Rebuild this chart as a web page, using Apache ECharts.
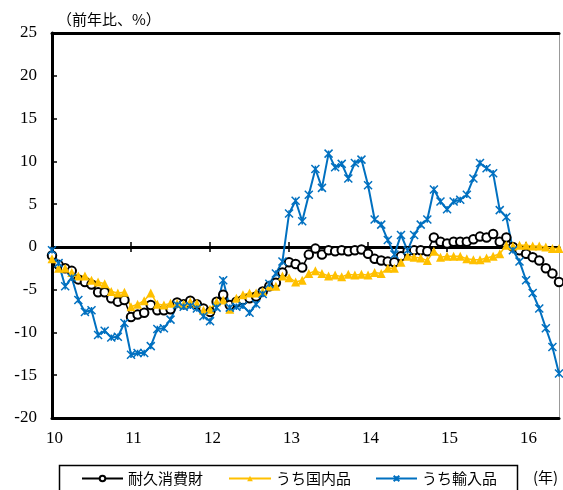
<!DOCTYPE html>
<html><head><meta charset="utf-8">
<script src="https://cdn.jsdelivr.net/npm/echarts@6/dist/echarts.min.js"></script>
<style>html,body{margin:0;padding:0;background:#fff}#c{width:563px;height:490px}</style>
</head><body><div id="c"></div>
<script>
const yearLabels = ['10','11','12','13','14','15','16'];
const categories = [];
yearLabels.forEach(y => { for (let m = 1; m <= 12; m++) categories.push(y + '-' + m); });
categories.length = 78; // Jan 2010 - Jun 2016

const seriesNames = ['耐久消費財', 'うち国内品', 'うち輸入品'];

const durable = [-1.0,-2.1,-2.5,-2.8,-3.8,-4.1,-4.4,-5.3,-5.3,-6.0,
  -6.4,-6.2,-8.2,-7.9,-7.7,-6.8,-7.4,-7.4,-7.3,-6.5,
  -6.7,-6.3,-6.7,-7.2,-7.6,-6.4,-5.6,-6.8,-6.4,-6.2,
  -6.0,-5.8,-5.2,-4.6,-4.2,-3.0,-1.8,-2.0,-2.4,-0.9,
  -0.2,-0.9,-0.4,-0.5,-0.4,-0.5,-0.4,-0.3,-0.8,-1.4,
  -1.6,-1.7,-1.8,-1.1,-0.5,-0.4,-0.4,-0.5,1.1,0.6,
  0.4,0.6,0.6,0.6,0.9,1.2,1.1,1.5,0.6,1.1,
  0.0,-0.4,-0.8,-1.2,-1.6,-2.5,-3.1,-4.1];

const domestic = [-1.4,-2.5,-2.5,-3.0,-3.4,-3.4,-3.9,-4.1,-4.3,-5.2,
  -5.4,-5.3,-7.0,-6.7,-6.3,-5.4,-6.7,-6.8,-6.6,-6.6,
  -6.7,-6.4,-6.6,-7.4,-7.3,-6.4,-6.2,-7.3,-6.0,-5.6,
  -5.4,-5.4,-5.2,-4.6,-4.6,-3.4,-3.6,-4.1,-3.9,-3.1,
  -2.8,-3.1,-3.4,-3.3,-3.5,-3.2,-3.3,-3.2,-3.3,-3.0,
  -3.1,-2.5,-2.5,-1.8,-1.1,-1.2,-1.3,-1.6,-0.5,-1.2,
  -1.1,-1.1,-1.1,-1.4,-1.5,-1.5,-1.3,-1.1,-0.8,0.2,
  0.1,0.2,0.2,0.1,0.1,0.0,-0.2,-0.2];

const imported = [-0.4,-1.9,-4.6,-3.6,-6.2,-7.6,-7.4,-10.3,-9.8,-10.6,
  -10.5,-8.9,-12.6,-12.4,-12.4,-11.6,-9.6,-9.5,-8.5,-6.8,
  -7.0,-6.9,-7.2,-8.1,-8.7,-7.1,-3.9,-7.1,-7.0,-6.9,
  -7.7,-6.7,-5.5,-4.3,-3.1,-1.7,3.9,5.4,3.0,6.1,
  9.1,6.9,10.9,9.3,9.7,8.0,9.8,10.2,7.2,3.2,
  2.6,0.8,-0.9,1.4,-0.4,1.4,2.6,3.2,6.7,5.3,
  4.4,5.3,5.5,6.1,8.0,9.8,9.2,8.6,4.3,3.5,
  -0.4,-1.7,-3.9,-5.4,-7.2,-9.5,-11.7,-14.8];

const yMin = -20, yMax = 25, yStep = 5;

const numFont = 'Liberation Serif';
const jpFont = 'Noto Sans CJK JP';
const yearTick = (i) => i % 12 === 0;

const chart = echarts.init(document.getElementById('c'), null, {renderer: 'canvas'});
const zeroAxis = (inside) => ({
  type: 'category', data: categories, boundaryGap: false, position: 'bottom',
  axisLine: {show: true, onZero: true, onZeroAxisIndex: 0, lineStyle: {color: '#000', width: 3}},
  axisTick: {show: true, inside: inside, length: 5, interval: yearTick, lineStyle: {color: '#000', width: 1.5}},
  axisLabel: {show: false}, splitLine: {show: false}
});
const legendBase = {itemHeight: 7, itemGap: 0, padding: 0, top: 471,
  textStyle: {fontFamily: jpFont, fontSize: 15, color: '#000'}};
chart.setOption({
  animation: false,
  backgroundColor: '#fff',
  grid: {left: 52, right: 4, top: 33, bottom: 72, containLabel: false},
  xAxis: [
    {type: 'category', data: categories, boundaryGap: false, position: 'bottom',
     axisLine: {show: true, onZero: false, lineStyle: {color: '#000', width: 3}},
     axisTick: {show: false},
     axisLabel: {interval: yearTick, formatter: v => v.split('-')[0], fontFamily: numFont, fontSize: 17, color: '#000', margin: 12, padding: [0, 0, 0, 5]},
     splitLine: {show: false}},
    zeroAxis(true),
    zeroAxis(false),
    {type: 'category', data: categories, boundaryGap: false, position: 'top',
     axisLine: {show: true, onZero: false, lineStyle: {color: '#000', width: 3}},
     axisTick: {show: false}, axisLabel: {show: false}, splitLine: {show: false}}
  ],
  yAxis: [
    {type: 'value', min: yMin, max: yMax, interval: yStep, position: 'left',
     axisLine: {show: true, onZero: false, lineStyle: {color: '#000', width: 3}},
     axisTick: {show: true, inside: true, length: 5, lineStyle: {color: '#000', width: 1.5}},
     axisLabel: {fontFamily: numFont, fontSize: 17, color: '#000', margin: 15},
     splitLine: {show: false}},
    {type: 'value', min: yMin, max: yMax, interval: yStep, position: 'right',
     axisLine: {show: true, onZero: false, lineStyle: {color: '#999', width: 1}},
     axisTick: {show: false}, axisLabel: {show: false}, splitLine: {show: false}}
  ],
  legend: [
    Object.assign({data: [seriesNames[0]], left: 81, itemWidth: 41}, legendBase),
    Object.assign({data: [seriesNames[1]], left: 228, itemWidth: 42}, legendBase),
    Object.assign({data: [seriesNames[2]], left: 375, itemWidth: 41}, legendBase)
  ],
  graphic: [
    {type: 'rect', left: 57, top: 463, shape: {width: 458, height: 40},
     style: {fill: 'none', stroke: '#000', lineWidth: 1.5}},
    {type: 'text', left: 57, top: 12,
     style: {text: '（前年比、%）', font: '15px "Noto Sans CJK JP"', fill: '#000'}},
    {type: 'text', left: 533, top: 470,
     style: {text: '(年)', font: '15px "Noto Sans CJK JP"', fill: '#000'}}
  ],
  series: [
    {name: seriesNames[0], type: 'line', data: durable, xAxisIndex: 0, yAxisIndex: 0,
     symbol: 'emptyCircle', symbolSize: 8.5, showAllSymbol: true,
     lineStyle: {color: '#000', width: 1.5},
     itemStyle: {color: '#000', borderWidth: 1.5}},
    {name: seriesNames[1], type: 'line', data: domestic, xAxisIndex: 0, yAxisIndex: 0,
     symbol: 'triangle', symbolSize: 9, showAllSymbol: true,
     lineStyle: {color: '#FFC000', width: 1.5},
     itemStyle: {color: '#FFC000'}},
    {name: seriesNames[2], type: 'line', data: imported, xAxisIndex: 0, yAxisIndex: 0,
     symbol: 'path://M0,0L10,10M10,0L0,10M5,1L5,9', symbolSize: 8, showAllSymbol: true,
     lineStyle: {color: '#0070C0', width: 2},
     itemStyle: {color: '#0070C0', borderColor: '#0070C0', borderWidth: 1.5}}
  ]
});
</script>
</body></html>
